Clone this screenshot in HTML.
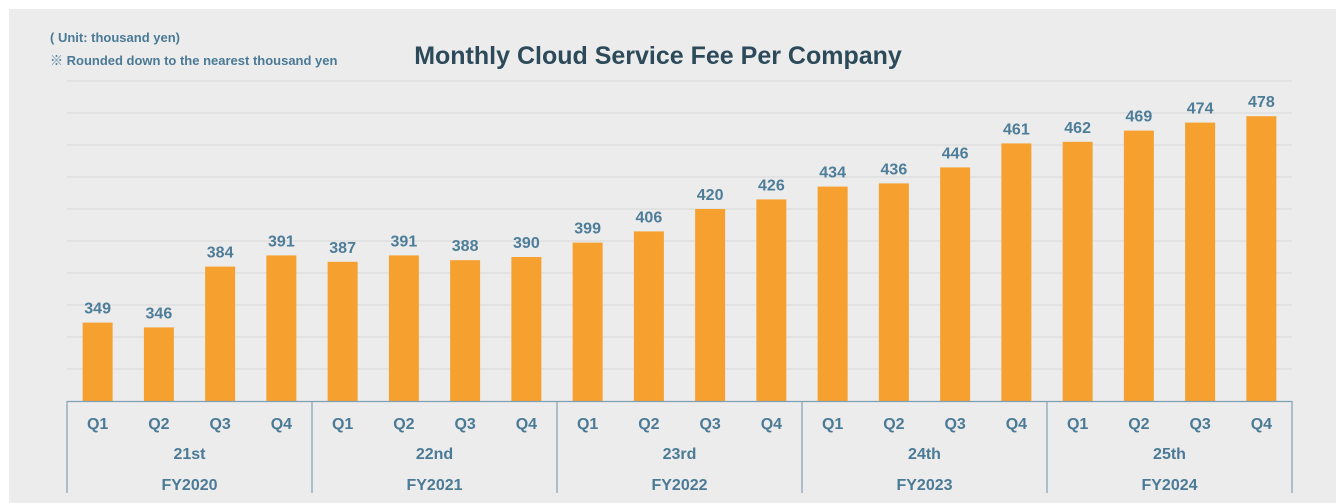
<!DOCTYPE html>
<html><head><meta charset="utf-8"><style>
html,body{margin:0;padding:0;background:#fff;width:1336px;height:503px;overflow:hidden}
svg{display:block;font-family:"Liberation Sans","Noto Sans CJK JP",sans-serif}
</style></head><body>
<svg id="chart" width="1336" height="503">
<rect x="9" y="9" width="1327" height="494" fill="#ececec"/>
<text x="50" y="42" font-size="13" font-weight="bold" fill="#4a7a96">( Unit: thousand yen)</text>
<text x="50" y="65" font-size="13" font-weight="bold" fill="#4a7a96">※ Rounded down to the nearest thousand yen</text>
<text x="658" y="64" font-size="25" font-weight="bold" fill="#2c4a5a" text-anchor="middle">Monthly Cloud Service Fee Per Company</text>
<g id="grid"></g><g id="bars"></g><g id="axis"></g>
</svg>
<script>
const quarters=["Q1","Q2","Q3","Q4"];
const periods=["21st","22nd","23rd","24th","25th"];
const fiscalYears=["FY2020","FY2021","FY2022","FY2023","FY2024"];
const values=[349,346,384,391,387,391,388,390,399,406,420,426,434,436,446,461,462,469,474,478];
const yTicks=[300,320,340,360,380,400,420,440,460,480,500];
const NS="http://www.w3.org/2000/svg";
const x0=67,x1=1292,y0=401,yMin=300,yMax=500,yTop=81;
const n=values.length,step=(x1-x0)/n,bw=30;
const y=v=>y0-(v-yMin)/(yMax-yMin)*(y0-yTop);
const xc=i=>x0+step*(i+0.5);
function mk(t,a,p){const e=document.createElementNS(NS,t);for(const k in a)e.setAttribute(k,a[k]);p.appendChild(e);return e;}
const grid=document.getElementById('grid'),bars=document.getElementById('bars'),axis=document.getElementById('axis');
yTicks.forEach(t=>{if(t===yMin)return;const l=mk('line',{x1:x0,x2:x1,y1:y(t),y2:y(t),stroke:'#d9d9d9','stroke-width':1},grid);

});
values.forEach((v,i)=>{
const r=mk('rect',{x:xc(i)-bw/2,y:y(v),width:bw,height:y0-y(v),fill:'#f6a030'},bars);


const t=mk('text',{x:xc(i),y:y(v)-9,'font-size':16,'font-weight':'bold',fill:'#4d7d98','text-anchor':'middle'},bars);t.textContent=v;


const q=mk('text',{x:xc(i),y:429,'font-size':16,'font-weight':'bold',fill:'#4a7a96','text-anchor':'middle'},axis);q.textContent=quarters[i%4];

});
const bl=mk('line',{x1:x0,x2:x1,y1:y0+0.5,y2:y0+0.5,stroke:'#7f9fb2','stroke-width':1.3},axis);


for(let g=0;g<=periods.length;g++){const xx=x0+step*4*g;
const d=mk('line',{x1:xx,x2:xx,y1:y0,y2:493,stroke:'#8aa6b8','stroke-width':1.3},axis);

}
periods.forEach((p,g)=>{const cx=x0+step*(4*g+2);
const a=mk('text',{x:cx,y:459,'font-size':16,'font-weight':'bold',fill:'#4a7a96','text-anchor':'middle'},axis);a.textContent=p;


const b=mk('text',{x:cx,y:490,'font-size':16,'font-weight':'bold',fill:'#4a7a96','text-anchor':'middle'},axis);b.textContent=fiscalYears[g];

});
</script>
</body></html>
